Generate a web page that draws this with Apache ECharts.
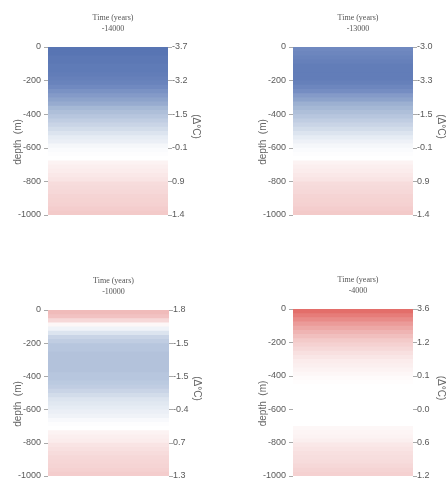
<!DOCTYPE html>
<html>
<head>
<meta charset="utf-8">
<script src="https://cdn.jsdelivr.net/npm/echarts@6/dist/echarts.min.js"></script>
<style>html,body{margin:0;padding:0;background:#fff}#c{width:448px;height:482px}</style>
</head>
<body>
<div id="c"></div>
<script>
// depth bands (top of each 25 m band), metres
const depthBands = [0,-25,-50,-75,-100,-125,-150,-175,-200,-225,-250,-275,-300,-325,-350,-375,-400,-425,-450,-475,-500,-525,-550,-575,-600,-625,-650,-675,-700,-725,-750,-775,-800,-825,-850,-875,-900,-925,-950,-975];
// panel time labels
const times = ['-14000','-13000','-10000','-4000'];
const anom14000 = [-3.7,-3.7,-3.6,-3.6,-3.5,-3.5,-3.4,-3.3,-3.2,-3.0,-2.8,-2.6,-2.4,-2.2,-1.9,-1.7,-1.5,-1.3,-1.1,-0.9,-0.7,-0.5,-0.4,-0.2,-0.1,-0.05,0.0,0.3,0.4,0.5,0.6,0.7,0.9,0.95,1.0,1.1,1.15,1.2,1.3,1.4];
const anom13000 = [-3.0,-3.1,-3.2,-3.3,-3.4,-3.4,-3.4,-3.4,-3.3,-3.1,-2.9,-2.6,-2.4,-2.1,-1.9,-1.7,-1.5,-1.3,-1.1,-0.9,-0.7,-0.5,-0.35,-0.2,-0.1,-0.05,0.0,0.3,0.4,0.5,0.6,0.7,0.9,0.95,1.0,1.1,1.15,1.2,1.3,1.4];
const anom10000 = [1.8,1.6,1.0,0.2,-0.3,-0.7,-1.1,-1.3,-1.5,-1.5,-1.6,-1.6,-1.6,-1.6,-1.6,-1.5,-1.5,-1.4,-1.3,-1.1,-0.9,-0.7,-0.6,-0.5,-0.4,-0.3,-0.15,-0.05,0.0,0.3,0.4,0.5,0.7,0.8,0.9,1.0,1.05,1.1,1.2,1.3];
const anom4000 = [3.6,3.3,3.0,2.6,2.3,2.0,1.7,1.4,1.2,1.0,0.8,0.65,0.5,0.4,0.3,0.2,0.1,0.05,0.0,0.0,0.0,0.0,0.0,0.0,0.0,0.0,0.0,0.0,0.2,0.25,0.3,0.4,0.6,0.7,0.8,0.85,0.9,1.0,1.1,1.2];
// right-axis tick labels at depths 0,-200,...,-1000
const right14000 = ['-3.7','-3.2','-1.5','-0.1','0.9','1.4'];
const right13000 = ['-3.0','-3.3','-1.5','-0.1','0.9','1.4'];
const right10000 = ['1.8','-1.5','-1.5','-0.4','0.7','1.3'];
const right4000 = ['3.6','1.2','0.1','0.0','0.6','1.2'];

const panels = [
  {data: anom14000, right: right14000, time: times[0], grid: {left: 48, top: 47, width: 120, height: 168}},
  {data: anom13000, right: right13000, time: times[1], grid: {left: 293, top: 47, width: 120, height: 168}},
  {data: anom10000, right: right10000, time: times[2], grid: {left: 48, top: 310, width: 121, height: 166}},
  {data: anom4000, right: right4000, time: times[3], grid: {left: 293, top: 309, width: 120, height: 167}}
];

const grids = [], xAxes = [], yAxes = [], series = [], titles = [];
const sans = 'Liberation Sans, Arial, sans-serif';
const labelStyle = {color: '#5a5a5a', fontSize: 9, fontFamily: sans};
panels.forEach((p, i) => {
  grids.push(Object.assign({containLabel: false}, p.grid));
  xAxes.push({type: 'category', gridIndex: i, data: ['t'], show: false});
  // hidden band axis for the colour strip
  yAxes.push({type: 'category', gridIndex: i, data: depthBands.map(String), inverse: true, show: false});
  // left depth axis
  yAxes.push({
    type: 'value', gridIndex: i, position: 'left', min: -1000, max: 0, interval: 200,
    name: 'depth  (m)', nameLocation: 'middle', nameGap: 25, nameRotate: 90, nameMoveOverlap: false,
    nameTextStyle: {color: '#666', fontSize: 10, fontFamily: sans, padding: [0, 22, 0, 0]},
    axisLine: {show: false}, splitLine: {show: false},
    axisTick: {show: true, length: 4, lineStyle: {color: '#aaa'}},
    axisLabel: Object.assign({margin: 7, formatter: v => String(v)}, labelStyle)
  });
  // right anomaly axis
  const rl = p.right;
  yAxes.push({
    type: 'value', gridIndex: i, position: 'right', min: -1000, max: 0, interval: 200,
    name: '(Δ°C)', nameLocation: 'middle', nameGap: 23, nameRotate: -90, nameMoveOverlap: false,
    nameTextStyle: {color: '#666', fontSize: 10, fontFamily: sans, padding: [0, 9, 0, 0]},
    axisLine: {show: false}, splitLine: {show: false},
    axisTick: {show: true, length: 4, lineStyle: {color: '#aaa'}},
    axisLabel: Object.assign({margin: 4, formatter: v => rl[Math.round(-v / 200)]}, labelStyle)
  });
  series.push({
    type: 'custom', xAxisIndex: i, yAxisIndex: i * 3,
    encode: {x: 0, y: 1},
    data: p.data.map((v, j) => [0, j, v]),
    renderItem: (params, api) => {
      const c = api.coord([api.value(0), api.value(1)]);
      const s = api.size([1, 1]);
      const top = c[1] - s[1] / 2;
      return {
        type: 'rect',
        shape: {x: c[0] - s[0] / 2, y: top, width: s[0], height: s[1] + (api.value(1) < p.data.length - 1 ? 1 : 0)},
        style: {fill: api.visual('color')}
      };
    },
    silent: true
  });
  titles.push({
    text: 'Time (years)\n' + p.time,
    left: p.grid.left + p.grid.width / 2, top: p.grid.top - 40, textAlign: 'center',
    textStyle: {color: '#555', fontSize: 8, fontWeight: 'normal', fontFamily: 'Liberation Serif, Times New Roman, serif', lineHeight: 11}
  });
});

const chart = echarts.init(document.getElementById('c'), null, {renderer: 'canvas'});
chart.setOption({
  backgroundColor: '#fff',
  animation: false,
  title: titles,
  grid: grids,
  xAxis: xAxes,
  yAxis: yAxes,
  visualMap: {
    type: 'continuous', show: false, min: -4, max: 4, dimension: 2, seriesIndex: [0, 1, 2, 3],
    inRange: {color: ['#4e6cad', '#7089c0', '#a1b4d3', '#cdd8e8', '#ffffff', '#f6d8d8', '#efb4b3', '#e88b88', '#e05a56']}
  },
  series: series
});
</script>
</body>
</html>
